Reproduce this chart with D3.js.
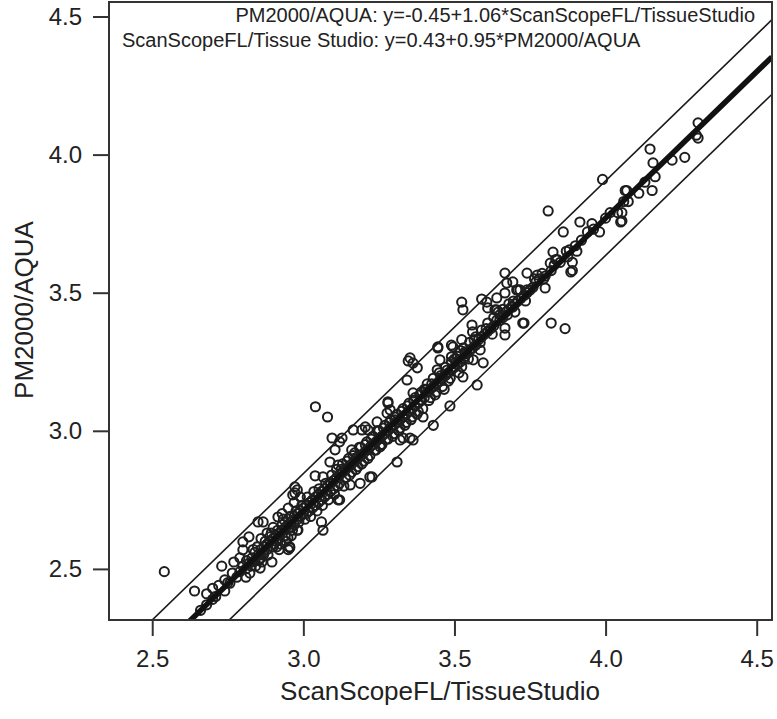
<!DOCTYPE html>
<html>
<head>
<meta charset="utf-8">
<script src="https://cdn.jsdelivr.net/npm/d3@7"></script>
<style>
  body { margin: 0; background: #fff; }
  svg { font-family: "Liberation Sans", Arial, sans-serif; }
  .axis text { font-size: 24px; fill: #222; }
  .axis line { stroke: #333; stroke-width: 2; }
</style>
</head>
<body>
<svg class="chart"></svg>
<script>
// ScanScopeFL/TissueStudio (x) vs PM2000/AQUA (y)
const points = [
  [2.54,2.49],[2.64,2.42],[2.66,2.35],[2.68,2.37],[2.68,2.41],[2.70,2.39],[2.70,2.43],[2.71,2.40],
  [2.72,2.44],[2.73,2.51],[2.74,2.42],[2.74,2.46],[2.75,2.45],[2.757,2.448],[2.765,2.485],[2.77,2.525],
  [2.78,2.47],[2.79,2.49],[2.79,2.54],[2.80,2.598],[2.80,2.569],[2.80,2.51],[2.81,2.50],[2.81,2.47],
  [2.82,2.616],[2.82,2.52],[2.823,2.485],[2.83,2.525],[2.83,2.54],[2.84,2.53],[2.84,2.56],[2.85,2.67],
  [2.85,2.55],[2.857,2.503],[2.86,2.57],[2.86,2.54],[2.86,2.61],[2.863,2.525],[2.867,2.67],[2.87,2.58],
  [2.87,2.56],[2.88,2.59],[2.88,2.57],[2.88,2.63],[2.889,2.616],[2.89,2.60],[2.896,2.525],[2.90,2.61],
  [2.90,2.58],[2.90,2.65],[2.91,2.62],[2.91,2.60],[2.912,2.58],[2.916,2.688],[2.92,2.63],[2.92,2.61],
  [2.92,2.57],[2.93,2.64],[2.93,2.66],[2.93,2.70],[2.939,2.641],[2.94,2.65],[2.94,2.62],[2.949,2.612],
  [2.95,2.66],[2.95,2.68],[2.95,2.72],[2.95,2.57],[2.955,2.576],[2.955,2.58],[2.96,2.67],[2.96,2.65],
  [2.96,2.62],[2.965,2.768],[2.97,2.69],[2.97,2.66],[2.97,2.74],[2.972,2.797],[2.972,2.775],[2.98,2.70],
  [2.98,2.68],[2.98,2.64],[2.98,2.786],[2.982,2.641],[2.99,2.71],[2.99,2.69],[2.99,2.76],[3.00,2.72],
  [3.00,2.70],[3.01,2.73],[3.01,2.70],[3.02,2.74],[3.02,2.71],[3.03,2.75],[3.03,2.72],[3.039,2.837],
  [3.04,2.76],[3.04,2.73],[3.04,3.087],[3.05,2.77],[3.05,2.74],[3.06,2.78],[3.06,2.75],[3.06,2.67],
  [3.065,2.833],[3.065,2.64],[3.07,2.79],[3.07,2.76],[3.08,2.80],[3.08,2.77],[3.08,3.05],[3.088,2.887],
  [3.09,2.81],[3.09,2.78],[3.095,2.974],[3.10,2.82],[3.10,2.79],[3.105,2.931],[3.11,2.83],[3.11,2.86],
  [3.115,2.876],[3.115,2.75],[3.12,2.84],[3.12,2.81],[3.12,2.75],[3.12,2.96],[3.128,2.974],[3.13,2.85],
  [3.13,2.88],[3.14,2.86],[3.14,2.83],[3.15,2.87],[3.15,2.90],[3.155,2.804],[3.16,2.88],[3.16,2.85],
  [3.16,2.931],[3.165,3.003],[3.17,2.89],[3.17,2.92],[3.18,2.90],[3.18,2.87],[3.188,2.81],[3.19,2.91],
  [3.19,2.94],[3.194,3.003],[3.20,2.92],[3.20,2.89],[3.205,3.014],[3.21,2.93],[3.21,2.96],[3.214,3.003],
  [3.22,2.94],[3.22,2.91],[3.22,2.833],[3.227,2.833],[3.23,2.95],[3.23,2.98],[3.24,2.96],[3.24,2.93],
  [3.244,3.032],[3.25,2.97],[3.25,3.00],[3.254,2.942],[3.26,2.98],[3.26,2.95],[3.27,2.99],[3.27,3.02],
  [3.277,3.064],[3.28,3.00],[3.28,2.97],[3.28,3.10],[3.28,3.105],[3.287,3.076],[3.29,3.01],[3.29,3.04],
  [3.30,3.02],[3.30,2.99],[3.303,3.04],[3.31,3.03],[3.31,3.06],[3.31,2.887],[3.32,3.04],[3.32,3.01],
  [3.32,2.967],[3.33,3.05],[3.33,3.08],[3.33,2.974],[3.34,3.06],[3.34,3.03],[3.343,3.184],[3.347,3.253],
  [3.35,3.07],[3.35,3.10],[3.353,2.974],[3.353,3.264],[3.36,3.08],[3.36,3.05],[3.363,3.137],[3.363,2.967],
  [3.363,3.245],[3.37,3.09],[3.37,3.12],[3.377,3.228],[3.38,3.10],[3.38,3.07],[3.39,3.11],[3.39,3.14],
  [3.396,3.05],[3.40,3.12],[3.40,3.15],[3.41,3.14],[3.41,3.17],[3.42,3.15],[3.42,3.12],[3.43,3.16],
  [3.43,3.19],[3.43,3.02],[3.44,3.17],[3.44,3.14],[3.443,3.221],[3.445,3.304],[3.445,3.30],[3.45,3.18],
  [3.45,3.21],[3.452,3.257],[3.46,3.19],[3.46,3.16],[3.47,3.20],[3.47,3.23],[3.48,3.21],[3.48,3.18],
  [3.485,3.09],[3.49,3.22],[3.49,3.25],[3.49,3.31],[3.49,3.268],[3.495,3.304],[3.50,3.23],[3.50,3.26],
  [3.51,3.24],[3.51,3.27],[3.52,3.25],[3.52,3.29],[3.524,3.466],[3.524,3.33],[3.524,3.232],[3.528,3.438],
  [3.528,3.195],[3.53,3.26],[3.53,3.30],[3.535,3.286],[3.535,3.27],[3.54,3.28],[3.55,3.29],[3.55,3.32],
  [3.558,3.383],[3.56,3.30],[3.56,3.358],[3.562,3.257],[3.57,3.31],[3.57,3.34],[3.575,3.166],[3.58,3.33],
  [3.585,3.293],[3.59,3.34],[3.59,3.365],[3.59,3.477],[3.595,3.246],[3.60,3.35],[3.607,3.466],[3.61,3.36],
  [3.61,3.39],[3.61,3.445],[3.62,3.37],[3.63,3.38],[3.63,3.41],[3.634,3.438],[3.64,3.40],[3.64,3.481],
  [3.64,3.438],[3.65,3.40],[3.65,3.42],[3.66,3.41],[3.66,3.44],[3.667,3.571],[3.667,3.499],[3.667,3.347],
  [3.667,3.372],[3.67,3.43],[3.673,3.535],[3.68,3.44],[3.68,3.46],[3.69,3.45],[3.693,3.539],[3.693,3.448],
  [3.70,3.46],[3.70,3.43],[3.706,3.51],[3.71,3.47],[3.71,3.51],[3.717,3.51],[3.72,3.48],[3.726,3.39],
  [3.73,3.49],[3.73,3.39],[3.74,3.50],[3.74,3.571],[3.74,3.51],[3.75,3.51],[3.76,3.52],[3.77,3.54],
  [3.774,3.564],[3.78,3.55],[3.79,3.57],[3.80,3.517],[3.80,3.56],[3.81,3.796],[3.817,3.607],[3.82,3.58],
  [3.82,3.39],[3.826,3.647],[3.83,3.60],[3.84,3.62],[3.85,3.61],[3.86,3.72],[3.866,3.37],[3.87,3.65],
  [3.88,3.655],[3.885,3.575],[3.89,3.61],[3.89,3.58],[3.90,3.67],[3.915,3.756],[3.92,3.69],[3.94,3.72],
  [3.955,3.75],[3.96,3.73],[3.98,3.72],[3.99,3.91],[4.00,3.77],[4.015,3.79],[4.04,3.79],[4.05,3.756],
  [4.054,3.79],[4.054,3.76],[4.06,3.83],[4.065,3.87],[4.07,3.87],[4.075,3.83],[4.11,3.86],[4.13,3.90],
  [4.147,4.02],[4.154,3.87],[4.157,3.97],[4.164,3.92],[4.22,3.98],[4.262,3.99],[4.30,4.07],[4.306,4.06],
  [4.306,4.115],
  // denser core
  [2.812,2.53],[2.826,2.51],[2.834,2.57],[2.842,2.51],[2.848,2.58],[2.853,2.53],[2.868,2.55],[2.874,2.60],
  [2.883,2.55],[2.894,2.63],[2.903,2.59],[2.915,2.64],[2.924,2.59],[2.934,2.68],[2.943,2.60],[2.957,2.69],
  [2.964,2.64],[2.976,2.71],[2.985,2.67],[2.995,2.73],[3.005,2.68],[3.013,2.76],[3.024,2.69],[3.035,2.78],
  [3.045,2.71],[3.052,2.79],[3.063,2.73],[3.074,2.81],[3.083,2.75],[3.094,2.84],[3.103,2.77],[3.114,2.80],
  [3.125,2.86],[3.134,2.80],[3.145,2.89],[3.153,2.84],[3.165,2.91],[3.174,2.86],[3.185,2.94],[3.193,2.88],
  [3.205,2.95],[3.213,2.90],[3.224,2.97],[3.235,2.93],[3.245,3.00],[3.256,2.95],[3.265,3.01],[3.274,2.97],
  [3.285,3.03],[3.296,2.98],[3.305,3.05],[3.316,3.00],[3.325,3.07],[3.336,3.02],[3.345,3.09],[3.356,3.04],
  [3.365,3.11],[3.376,3.06],[3.385,3.13],[3.395,3.08],[3.405,3.15],[3.415,3.11],[3.425,3.17],[3.436,3.13],
  [3.455,3.20],[3.466,3.15],[3.476,3.22],[3.486,3.19],[3.505,3.25],[3.515,3.21],[3.536,3.28],[3.546,3.26],
  [3.565,3.33],[3.585,3.32],[3.605,3.37],[3.625,3.35],[3.645,3.43],[3.675,3.42],[3.695,3.47],[3.735,3.47],
  [3.765,3.55],[3.795,3.55],[3.835,3.62],[3.875,3.63],[3.905,3.65]
];

// fitted line and band, y = a + b*x
const fitLine = { a: -0.47, b: 1.06 };
const bandOffsets = [0.135, -0.135];

const xTicks = [2.5, 3.0, 3.5, 4.0, 4.5];
const yTicks = [2.5, 3.0, 3.5, 4.0, 4.5];
const xTitle = 'ScanScopeFL/TissueStudio';
const yTitle = 'PM2000/AQUA';
const legendLines = [
  'PM2000/AQUA: y=-0.45+1.06*ScanScopeFL/TissueStudio',
  'ScanScopeFL/Tissue Studio: y=0.43+0.95*PM2000/AQUA'
];

const margin = { top: 2, right: 5, bottom: 99, left: 109 };
const width = 777 - margin.left - margin.right;
const height = 719 - margin.top - margin.bottom;

const x = d3.scaleLinear()
  .domain([2.357, 4.5506])
  .range([0, width]);

const y = d3.scaleLinear()
  .domain([2.315, 4.5525])
  .range([height, 0]);

const svg = d3.select('.chart')
  .attr('width', 777)
  .attr('height', 719);

const chart = svg.append('g')
  .attr('transform', 'translate(' + margin.left + ',' + margin.top + ')');

chart.append('clipPath')
    .attr('id', 'clip')
  .append('rect')
    .attr('width', width)
    .attr('height', height);

const xAxis = d3.axisBottom(x)
  .tickValues(xTicks)
  .tickFormat(d3.format('.1f'))
  .tickSize(16)
  .tickPadding(14);

const yAxis = d3.axisLeft(y)
  .tickValues(yTicks)
  .tickFormat(d3.format('.1f'))
  .tickSize(16)
  .tickPadding(11);

chart.append('g')
  .attr('class', 'x axis')
  .attr('transform', 'translate(0,' + height + ')')
  .call(xAxis)
  .call(g => g.select('.domain').remove());

chart.append('g')
  .attr('class', 'y axis')
  .call(yAxis)
  .call(g => g.select('.domain').remove());

const plot = chart.append('g').attr('clip-path', 'url(#clip)');

const xEnds = x.domain();
const lineGen = d3.line().x(d => x(d[0])).y(d => y(d[1]));

bandOffsets.forEach(off => {
  plot.append('path')
    .datum(xEnds.map(v => [v, fitLine.a + off + fitLine.b * v]))
    .attr('d', lineGen)
    .attr('fill', 'none')
    .attr('stroke', '#1a1a1a')
    .attr('stroke-width', 1.6);
});

plot.selectAll('.pt')
    .data(points)
  .enter().append('circle')
    .attr('class', 'pt')
    .attr('cx', d => x(d[0]))
    .attr('cy', d => y(d[1]))
    .attr('r', 4.6)
    .attr('fill', 'none')
    .attr('stroke', '#1e1e1e')
    .attr('stroke-width', 2);

plot.append('path')
  .datum(xEnds.map(v => [v, fitLine.a + fitLine.b * v]))
  .attr('d', lineGen)
  .attr('fill', 'none')
  .attr('stroke', '#111')
  .attr('stroke-width', 5.5);

chart.append('rect')
  .attr('width', width)
  .attr('height', height)
  .attr('fill', 'none')
  .attr('stroke', '#333')
  .attr('stroke-width', 2);

chart.append('text')
  .attr('x', 646)
  .attr('y', 20)
  .attr('text-anchor', 'end')
  .attr('font-size', 20)
  .attr('fill', '#222')
  .text(legendLines[0]);

chart.append('text')
  .attr('x', 13)
  .attr('y', 45)
  .attr('font-size', 20)
  .attr('fill', '#222')
  .text(legendLines[1]);

svg.append('text')
  .attr('x', 440)
  .attr('y', 700)
  .attr('text-anchor', 'middle')
  .attr('font-size', 26)
  .attr('fill', '#222')
  .text(xTitle);

svg.append('text')
  .attr('transform', 'translate(33,310) rotate(-90)')
  .attr('text-anchor', 'middle')
  .attr('font-size', 26)
  .attr('fill', '#222')
  .text(yTitle);
</script>
</body>
</html>
